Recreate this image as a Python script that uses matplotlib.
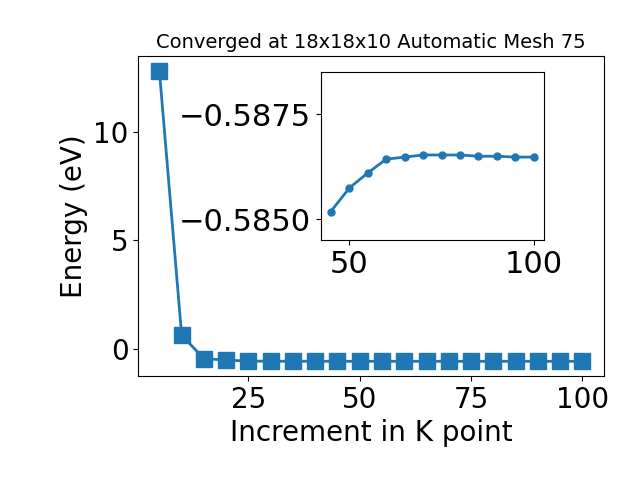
import matplotlib
matplotlib.use("Agg")
import matplotlib.pyplot as plt

kpoints = [5, 10, 15, 20, 25, 30, 35, 40, 45, 50, 55, 60, 65, 70, 75, 80, 85, 90, 95, 100]
energy = [12.85, 0.62, -0.46, -0.53, -0.575, -0.582, -0.584, -0.585,
          -0.58518, -0.58574, -0.58610, -0.58643, -0.58648, -0.58653, -0.58653,
          -0.58653, -0.58650, -0.58650, -0.58648, -0.58648]
inset_start = 8

fig = plt.figure(figsize=(6.4, 4.8), dpi=100)
ax = fig.add_axes([0.216, 0.217, 0.727, 0.666])
ax.plot(kpoints, energy, marker='s', markersize=11, linewidth=2, color='#1f77b4')
ax.set_xticks([25, 50, 75, 100])
ax.set_yticks([0, 5, 10])
ax.tick_params(labelsize=20)
ax.set_xlabel('Increment in K point', fontsize=20)
ax.set_ylabel('Energy (eV)', fontsize=20)
ax.set_title('Converged at 18x18x10 Automatic Mesh 75', fontsize=14)

ins = fig.add_axes([0.501, 0.5, 0.349, 0.349])
ins.plot(kpoints[inset_start:], energy[inset_start:], marker='o', markersize=5,
         linewidth=2, color='#1f77b4')
ins.set_ylim(-0.5845, -0.5885)
ins.set_yticks([-0.5850, -0.5875])
ins.set_xticks([50, 100])
ins.tick_params(labelsize=22)

fig.savefig('out.png', dpi=100)
